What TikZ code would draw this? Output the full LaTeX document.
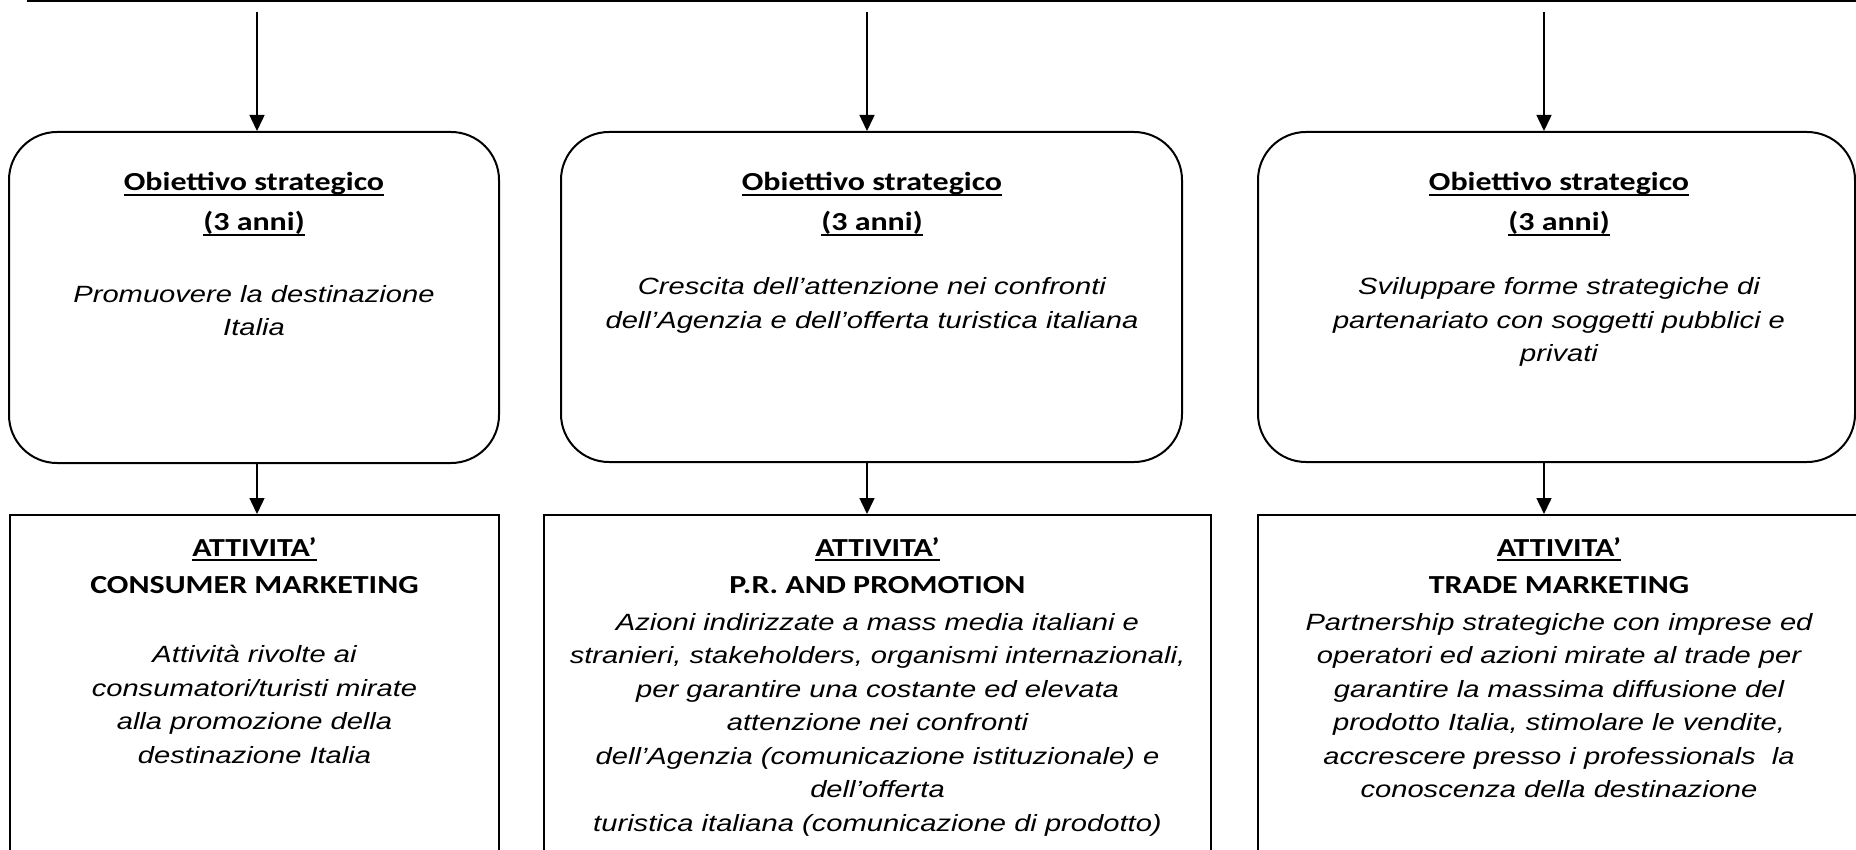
\documentclass[tikz,border=0pt]{standalone}
\usepackage{fontspec}
\setmainfont{Liberation Sans}
\newfontfamily\bodyfont[FakeStretch=1.24]{Liberation Sans}
\newfontfamily\headfont[FakeStretch=1.23]{Carlito}
\usetikzlibrary{arrows.meta}
\newcommand\myul[1]{\setbox0\hbox{#1}\rlap{\rule[-5pt]{\wd0}{2pt}}\box0}
\tikzset{
  boxline/.style={draw, line width=2pt},
  obox/.style={boxline, rounded corners=48pt, inner sep=0pt},
  abox/.style={boxline, inner sep=0pt},
  headtxt/.style={anchor=base, align=center, inner sep=0pt,
    font=\headfont\bfseries\fontsize{26}{40}\selectfont},
  headtxtb/.style={anchor=base, align=center, inner sep=0pt,
    font=\headfont\bfseries\fontsize{26}{37.5}\selectfont},
  bodytxt/.style={anchor=base, align=center, inner sep=0pt,
    font=\bodyfont\itshape\fontsize{23.5}{33.5}\selectfont},
  arr/.style={line width=1.5pt, -{Triangle[width=15pt,length=16pt]}}
}
\begin{document}
\begin{tikzpicture}[x=1pt,y=-1pt]
\useasboundingbox (0,0) rectangle (1856,850);
\clip (0,0) rectangle (1856,850);
% box above (cut off)
\node[boxline, outer sep=0pt, inner sep=0pt, minimum width=1900pt, minimum height=100pt, anchor=south west] (top) at (28,1.5) {};
% objective boxes
\node[obox, minimum width=490pt, minimum height=331pt] (o1) at (254,297.5) {};
\node[obox, minimum width=621pt, minimum height=330pt] (o2) at (871.5,297) {};
\node[obox, minimum width=597pt, minimum height=330pt] (o3) at (1556.5,297) {};
% activity boxes
\node[abox, minimum width=489pt, minimum height=385pt] (r1) at (254.5,707.5) {};
\node[abox, minimum width=667pt, minimum height=385pt] (r2) at (877.5,707.5) {};
\node[abox, minimum width=602pt, minimum height=385pt] (r3) at (1559,707.5) {};
% arrow start points
\coordinate (s1) at (257,12);
\coordinate (s2) at (867,12);
\coordinate (s3) at (1544,12);
\draw[arr] (s1) -- (s1 |- o1.north);
\draw[arr] (s2) -- (s2 |- o2.north);
\draw[arr] (s3) -- (s3 |- o3.north);
\draw[arr] (o1.south -| s1) -- (r1.north -| s1);
\draw[arr] (o2.south -| s2) -- (r2.north -| s2);
\draw[arr] (o3.south -| s3) -- (r3.north -| s3);
% objective texts (anchor = baseline of last line)
\node[headtxt] (o1h) at (254,231) {\myul{Obiettivo strategico}\\\myul{(3 anni)}};
\node[headtxt] (o2h) at (872,231) {\myul{Obiettivo strategico}\\\myul{(3 anni)}};
\node[headtxt] (o3h) at (1559,231) {\myul{Obiettivo strategico}\\\myul{(3 anni)}};
\node[bodytxt] (o1b) at (254,336) {Promuovere la destinazione\\Italia};
\node[bodytxt] (o2b) at (872,328.5) {Crescita dell’attenzione nei confronti\\dell’Agenzia e dell’offerta turistica italiana};
\node[bodytxt] (o3b) at (1559,362) {Sviluppare forme strategiche di\\partenariato con soggetti pubblici e\\privati};
% activity texts
\node[headtxtb] (r1h) at (254.5,593.5) {\myul{ATTIVITA’}\\CONSUMER MARKETING};
\node[headtxtb] (r2h) at (877.5,593.5) {\myul{ATTIVITA’}\\P.R. AND PROMOTION};
\node[headtxtb] (r3h) at (1559,593.5) {\myul{ATTIVITA’}\\TRADE MARKETING};
\node[bodytxt] (r1b) at (254.5,763) {Attività rivolte ai\\consumatori/turisti mirate\\alla promozione della\\destinazione Italia};
\node[bodytxt] (r2b) at (877.5,831) {Azioni indirizzate a mass media italiani e\\stranieri, stakeholders, organismi internazionali,\\per garantire una costante ed elevata\\attenzione nei confronti\\dell’Agenzia (comunicazione istituzionale) e\\dell’offerta\\turistica italiana (comunicazione di prodotto)};
\node[bodytxt] (r3b) at (1559,797.5) {Partnership strategiche con imprese ed\\operatori ed azioni mirate al trade per\\garantire la massima diffusione del\\prodotto Italia, stimolare le vendite,\\accrescere presso i professionals\ \ la\\conoscenza della destinazione};
\end{tikzpicture}
\end{document}
